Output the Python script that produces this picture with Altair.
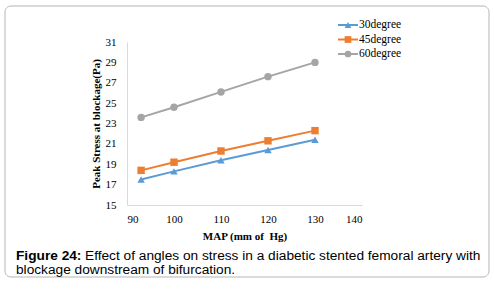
import altair as alt
import pandas as pd

# ---- data ----
map_values = [93, 100, 110, 120, 130]
series = ["30degree", "45degree", "60degree"]
stress_30 = [17.5, 18.3, 19.4, 20.4, 21.4]
stress_45 = [18.4, 19.2, 20.3, 21.3, 22.3]
stress_60 = [23.6, 24.6, 26.1, 27.6, 29.0]
colors = ["#5B9BD5", "#ED7D31", "#A5A5A5"]
shapes = ["triangle-up", "square", "circle"]
x_ticks = [90, 100, 110, 120, 130, 140]
y_ticks = [15, 17, 19, 21, 23, 25, 27, 29, 31]
x_title = "MAP (mm of\u00a0 Hg)"
y_title = "Peak Stress at blockage(Pa)"
caption_bold = "Figure 24:"
caption_line1 = "Effect of angles on stress in a diabetic stented femoral artery with"
caption_line2 = "blockage downstream of bifurcation."

rows = []
for s, vals in zip(series, [stress_30, stress_45, stress_60]):
    for m, v in zip(map_values, vals):
        rows.append({"series": s, "map": m, "stress": v})
df = pd.DataFrame(rows)
legend_df = pd.DataFrame({"series": series})
one = pd.DataFrame({"k": [0]})

# layout (pixels)
L, T, W, H = 127, 42, 235, 163
TOTAL_W, TOTAL_H = 494, 292
serif = "Liberation Serif"
sans = "Liberation Sans"

color = alt.Color("series:N", scale=alt.Scale(domain=series, range=colors), legend=None)
shape = alt.Shape("series:N", scale=alt.Scale(domain=series, range=shapes), legend=None)

xenc = alt.X("map:Q", scale=alt.Scale(domain=[90, 140], nice=False),
             axis=alt.Axis(values=x_ticks, title=x_title, grid=False, ticks=False,
                           labelOverlap=False,
                           domainColor="#d9d9d9", labelPadding=8, titlePadding=6))
yenc = alt.Y("stress:Q", scale=alt.Scale(domain=[15, 31], nice=False, zero=False),
             axis=alt.Axis(values=y_ticks, title=y_title, grid=False, ticks=False,
                           labelOverlap=False, labelFlush=False,
                           domainColor="#d9d9d9", labelPadding=11, titlePadding=4))

lines = alt.Chart(df).mark_line(strokeWidth=2).encode(x=xenc, y=yenc, color=color, detail="series:N")
points = alt.Chart(df).mark_point(filled=True, opacity=1, size=55).encode(
    x=xenc, y=yenc, color=color, shape=shape)
main = alt.layer(lines, points)

leg_y = alt.Y("series:N", scale=alt.Scale(type="point", domain=series, range=[25 - T, 54 - T],
                                          padding=0), axis=None)
leg_rule = alt.Chart(legend_df).mark_rule(strokeWidth=2).encode(
    x=alt.value(338 - L), x2=alt.value(358 - L), y=leg_y, color=color)
leg_pt = alt.Chart(legend_df).mark_point(filled=True, opacity=1, size=45).encode(
    x=alt.value(348 - L), y=leg_y, color=color, shape=shape)
leg_txt = alt.Chart(legend_df).mark_text(align="left", baseline="middle", font=serif,
                                         fontSize=11.5, color="#000").encode(
    x=alt.value(359 - L), y=leg_y, text="series:N")
legend = alt.layer(leg_rule, leg_pt, leg_txt)

border = alt.Chart(one).mark_rect(fill=None, fillOpacity=0, stroke="#b5b5b5", strokeWidth=1,
                                  cornerRadius=6).encode(
    x=alt.value(5 - L), x2=alt.value(489 - L), y=alt.value(6 - T), y2=alt.value(277 - T))

FS = 13.7
cap_b = alt.Chart(one).mark_text(align="left", baseline="middle", font=sans, fontSize=FS,
                                 fontWeight="bold", color="#000").encode(
    x=alt.value(16 - L), y=alt.value(256 - T), text=alt.value(caption_bold))
cap_1 = alt.Chart(one).mark_text(align="left", baseline="middle", font=sans, fontSize=FS,
                                 color="#000").encode(
    x=alt.value(85 - L), y=alt.value(256 - T), text=alt.value(caption_line1))
cap_2 = alt.Chart(one).mark_text(align="left", baseline="middle", font=sans, fontSize=FS,
                                 color="#000").encode(
    x=alt.value(16 - L), y=alt.value(270 - T), text=alt.value(caption_line2))

chart = alt.layer(border, main, legend, cap_b, cap_1, cap_2).resolve_scale(
    y="independent"
).properties(
    width=W, height=H,
    autosize=alt.AutoSizeParams(type="none"),
    padding={"left": L, "top": T, "right": TOTAL_W - L - W, "bottom": TOTAL_H - T - H},
    background="white",
).configure_view(stroke=None).configure_axis(
    labelFont=serif, titleFont=serif, labelFontSize=11, titleFontSize=11,
    labelColor="#000", titleColor="#000", titleFontWeight="bold",
    labelOverlap=False,
)

chart.save("out.html", embed_options={"renderer": "svg", "actions": False})
